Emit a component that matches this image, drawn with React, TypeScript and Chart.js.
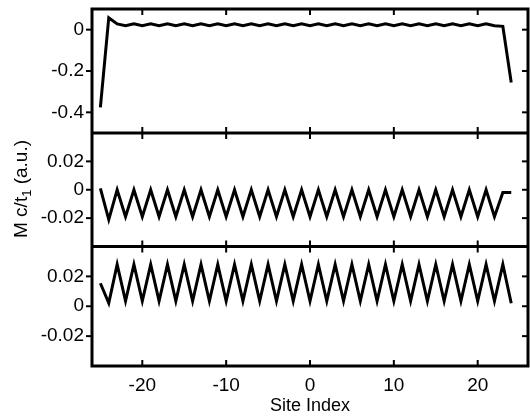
import React, { useEffect, useRef } from "react";
import { Chart, registerables } from "chart.js";

Chart.register(...registerables);

// Site index (x values)
const SITES = [
  -25, -24, -23, -22, -21, -20, -19, -18, -17, -16,
  -15, -14, -13, -12, -11, -10, -9, -8, -7, -6,
  -5, -4, -3, -2, -1, 0, 1, 2, 3, 4,
  5, 6, 7, 8, 9, 10, 11, 12, 13, 14,
  15, 16, 17, 18, 19, 20, 21, 22, 23, 24,
];

// Top panel
const TOP_VALUES = [
  -0.376, 0.058, 0.028, 0.019, 0.029, 0.019, 0.029, 0.019, 0.029, 0.019,
  0.029, 0.019, 0.029, 0.019, 0.029, 0.019, 0.029, 0.019, 0.029, 0.019,
  0.029, 0.019, 0.029, 0.019, 0.029, 0.019, 0.029, 0.019, 0.029, 0.019,
  0.029, 0.019, 0.029, 0.019, 0.029, 0.019, 0.029, 0.019, 0.029, 0.019,
  0.029, 0.019, 0.029, 0.019, 0.029, 0.019, 0.029, 0.019, 0.016, -0.256,
];

// Middle panel
const MID_VALUES = [
  0.001, -0.021, 0.0, -0.019, 0.0, -0.019, 0.0, -0.019, 0.0, -0.019,
  0.0, -0.019, 0.0, -0.019, 0.0, -0.019, 0.0, -0.019, 0.0, -0.019,
  0.0, -0.019, 0.0, -0.019, 0.0, -0.019, 0.0, -0.019, 0.0, -0.019,
  0.0, -0.019, 0.0, -0.019, 0.0, -0.019, 0.0, -0.019, 0.0, -0.019,
  0.0, -0.019, 0.0, -0.019, 0.0, -0.019, 0.0, -0.019, -0.002, -0.002,
];

// Bottom panel
const BOT_VALUES = [
  0.0154, 0.0022, 0.028, 0.0035, 0.028, 0.0035, 0.028, 0.0035, 0.028, 0.0035,
  0.028, 0.0035, 0.028, 0.0035, 0.028, 0.0035, 0.028, 0.0035, 0.028, 0.0035,
  0.028, 0.0035, 0.028, 0.0035, 0.028, 0.0035, 0.028, 0.0035, 0.028, 0.0035,
  0.028, 0.0035, 0.028, 0.0035, 0.028, 0.0035, 0.028, 0.0035, 0.028, 0.0035,
  0.028, 0.0035, 0.028, 0.0035, 0.028, 0.0035, 0.028, 0.0035, 0.028, 0.002,
];

const X_TICKS = [-20, -10, 0, 10, 20];
const X_TICK_LABELS = ["-20", "-10", "0", "10", "20"];
const TOP_TICKS = [0, -0.2, -0.4];
const TOP_TICK_LABELS = ["0", "-0.2", "-0.4"];
const SMALL_TICKS = [0.02, 0, -0.02];
const SMALL_TICK_LABELS = ["0.02", "0", "-0.02"];

const X_TITLE = "Site Index";
const Y_TITLE_MAIN = "M c/t";
const Y_TITLE_SUB = "1";
const Y_TITLE_TAIL = " (a.u.)";

const FONT_FAMILY = '"Liberation Sans", Arial, Helvetica, sans-serif';

const framePlugin = {
  id: "frame",
  afterDraw(chart: any) {
    const { ctx, chartArea: ca, scales } = chart;
    ctx.save();
    ctx.strokeStyle = "#000";
    ctx.lineCap = "butt";
    const line = (x1: number, y1: number, x2: number, y2: number) => {
      ctx.beginPath();
      ctx.moveTo(x1, y1);
      ctx.lineTo(x2, y2);
      ctx.stroke();
    };
    ctx.lineWidth = 2;
    for (const id of ["y1", "y2", "y3"]) {
      const s = scales[id];
      for (const t of s.ticks) {
        const y = s.getPixelForValue(t.value);
        line(ca.left - 6, y, ca.left, y);
        line(ca.right, y, ca.right - 6, y);
      }
      for (const t of scales.x.ticks) {
        const x = scales.x.getPixelForValue(t.value);
        line(x, s.top, x, s.top + 6);
        line(x, s.bottom, x, s.bottom - 6);
      }
    }
    ctx.lineWidth = 3;
    ctx.strokeRect(ca.left, ca.top, ca.right - ca.left, ca.bottom - ca.top);
    line(ca.left, scales.y1.bottom, ca.right, scales.y1.bottom);
    line(ca.left, scales.y2.bottom, ca.right, scales.y2.bottom);

    // y-axis title with subscript
    const mainFont = `19px ${FONT_FAMILY}`;
    const subFont = `13px ${FONT_FAMILY}`;
    ctx.font = mainFont;
    const w1 = ctx.measureText(Y_TITLE_MAIN).width;
    const w3 = ctx.measureText(Y_TITLE_TAIL).width;
    ctx.font = subFont;
    const w2 = ctx.measureText(Y_TITLE_SUB).width;
    const total = w1 + w2 + w3;
    ctx.translate(27, 189);
    ctx.rotate(-Math.PI / 2);
    ctx.fillStyle = "#000";
    ctx.textBaseline = "alphabetic";
    ctx.textAlign = "left";
    let x0 = -total / 2;
    ctx.font = mainFont;
    ctx.fillText(Y_TITLE_MAIN, x0, 0);
    x0 += w1;
    ctx.font = subFont;
    ctx.fillText(Y_TITLE_SUB, x0, 4);
    x0 += w2;
    ctx.font = mainFont;
    ctx.fillText(Y_TITLE_TAIL, x0, 0);
    ctx.restore();
  },
};

function yAxis(min: number, max: number, weight: number, ticks: number[], labels: string[]) {
  return {
    type: "linear",
    position: "left",
    stack: "panels",
    stackWeight: weight,
    min,
    max,
    grid: { display: false, drawTicks: false },
    border: { display: false },
    afterBuildTicks: (s: any) => {
      s.ticks = ticks.map((v) => ({ value: v }));
    },
    afterFit: (s: any) => {
      s.width = 92;
      s.paddingTop = 0;
      s.paddingBottom = 0;
    },
    ticks: {
      color: "#000",
      font: { family: FONT_FAMILY, size: 19 },
      padding: 8,
      autoSkip: false,
      callback: (_v: any, i: number) => labels[i],
    },
  };
}

export default function App() {
  const ref = useRef<HTMLCanvasElement | null>(null);
  useEffect(() => {
    if (!ref.current) return;
    const mk = (vals: number[]) => SITES.map((x, i) => ({ x, y: vals[i] }));
    const ds = (vals: number[], axis: string) => ({
      data: mk(vals),
      yAxisID: axis,
      borderColor: "#000",
      borderWidth: 3,
      pointRadius: 0,
      tension: 0,
      fill: false,
      borderJoinStyle: "miter",
    });
    const chart = new Chart(ref.current, {
      type: "line",
      data: {
        datasets: [ds(TOP_VALUES, "y1"), ds(MID_VALUES, "y2"), ds(BOT_VALUES, "y3")] as any,
      },
      options: {
        responsive: false,
        maintainAspectRatio: false,
        animation: false,
        layout: { padding: { left: 0, right: 2, top: 9, bottom: 0 } },
        plugins: { legend: { display: false }, tooltip: { enabled: false } },
        scales: {
          x: {
            type: "linear",
            position: "bottom",
            min: -26,
            max: 26,
            grid: { display: false, drawTicks: false },
            border: { display: false },
            afterBuildTicks: (s: any) => {
              s.ticks = X_TICKS.map((v) => ({ value: v }));
            },
            afterFit: (s: any) => {
              s.height = 52;
              s.paddingLeft = 0;
              s.paddingRight = 0;
            },
            ticks: {
              color: "#000",
              font: { family: FONT_FAMILY, size: 19 },
              padding: 8,
              maxRotation: 0,
              autoSkip: false,
              callback: (_v: any, i: number) => X_TICK_LABELS[i],
            },
            title: {
              display: true,
              text: X_TITLE,
              color: "#000",
              font: { family: FONT_FAMILY, size: 18 },
              padding: { top: 0, bottom: 1 },
            },
          },
          y3: yAxis(-0.04, 0.04, 119.5, SMALL_TICKS, SMALL_TICK_LABELS),
          y2: yAxis(-0.04, 0.04, 113.5, SMALL_TICKS, SMALL_TICK_LABELS),
          y1: yAxis(-0.5, 0.1, 124, TOP_TICKS, TOP_TICK_LABELS),
        } as any,
      },
      plugins: [framePlugin],
    });
    return () => chart.destroy();
  }, []);
  return (
    <div style={{ position: "fixed", left: 0, top: 0, width: 530, height: 418, background: "#fff" }}>
      <canvas ref={ref} width={530} height={418} style={{ display: "block" }} />
    </div>
  );
}
